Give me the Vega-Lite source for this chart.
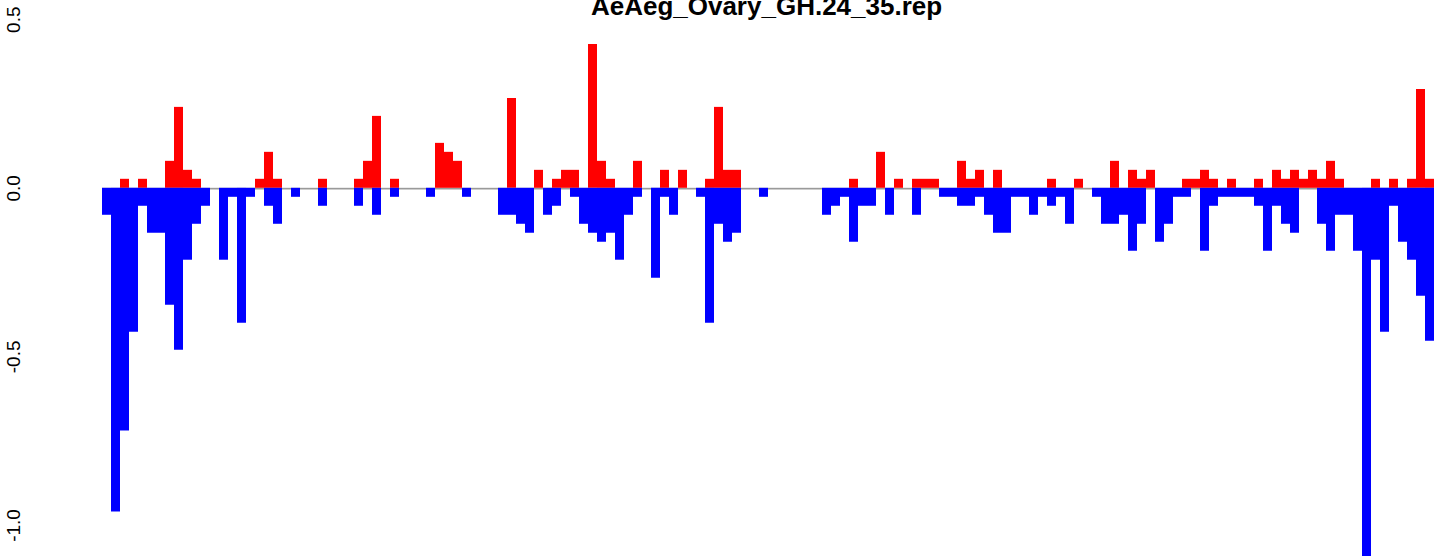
{
  "$schema": "https://vega.github.io/schema/vega-lite/v6.json",
  "width": 1441,
  "height": 556,
  "autosize": {"type": "none"},
  "padding": 0,
  "background": "white",
  "config": {"view": {"stroke": null}, "font": "Liberation Sans"},
  "data": {"values": [
    {"i": 0, "up": 0, "down": -0.08},
    {"i": 1, "up": 0, "down": -0.96},
    {"i": 2, "up": 0.0267, "down": -0.72},
    {"i": 3, "up": 0, "down": -0.4267},
    {"i": 4, "up": 0.0267, "down": -0.0533},
    {"i": 5, "up": 0, "down": -0.1333},
    {"i": 6, "up": 0, "down": -0.1333},
    {"i": 7, "up": 0.08, "down": -0.3467},
    {"i": 8, "up": 0.24, "down": -0.48},
    {"i": 9, "up": 0.0533, "down": -0.2133},
    {"i": 10, "up": 0.0267, "down": -0.1067},
    {"i": 11, "up": 0, "down": -0.0533},
    {"i": 12, "up": 0, "down": 0},
    {"i": 13, "up": 0, "down": -0.2133},
    {"i": 14, "up": 0, "down": -0.0267},
    {"i": 15, "up": 0, "down": -0.4},
    {"i": 16, "up": 0, "down": -0.0267},
    {"i": 17, "up": 0.0267, "down": 0},
    {"i": 18, "up": 0.1067, "down": -0.0533},
    {"i": 19, "up": 0.0267, "down": -0.1067},
    {"i": 20, "up": 0, "down": 0},
    {"i": 21, "up": 0, "down": -0.0267},
    {"i": 22, "up": 0, "down": 0},
    {"i": 23, "up": 0, "down": 0},
    {"i": 24, "up": 0.0267, "down": -0.0533},
    {"i": 25, "up": 0, "down": 0},
    {"i": 26, "up": 0, "down": 0},
    {"i": 27, "up": 0, "down": 0},
    {"i": 28, "up": 0.0267, "down": -0.0533},
    {"i": 29, "up": 0.08, "down": 0},
    {"i": 30, "up": 0.2133, "down": -0.08},
    {"i": 31, "up": 0, "down": 0},
    {"i": 32, "up": 0.0267, "down": -0.0267},
    {"i": 33, "up": 0, "down": 0},
    {"i": 34, "up": 0, "down": 0},
    {"i": 35, "up": 0, "down": 0},
    {"i": 36, "up": 0, "down": -0.0267},
    {"i": 37, "up": 0.1333, "down": 0},
    {"i": 38, "up": 0.1067, "down": 0},
    {"i": 39, "up": 0.08, "down": 0},
    {"i": 40, "up": 0, "down": -0.0267},
    {"i": 41, "up": 0, "down": 0},
    {"i": 42, "up": 0, "down": 0},
    {"i": 43, "up": 0, "down": 0},
    {"i": 44, "up": 0, "down": -0.08},
    {"i": 45, "up": 0.2667, "down": -0.08},
    {"i": 46, "up": 0, "down": -0.1067},
    {"i": 47, "up": 0, "down": -0.1333},
    {"i": 48, "up": 0.0533, "down": 0},
    {"i": 49, "up": 0, "down": -0.08},
    {"i": 50, "up": 0.0267, "down": -0.0533},
    {"i": 51, "up": 0.0533, "down": 0},
    {"i": 52, "up": 0.0533, "down": -0.0267},
    {"i": 53, "up": 0, "down": -0.1067},
    {"i": 54, "up": 0.4267, "down": -0.1333},
    {"i": 55, "up": 0.08, "down": -0.16},
    {"i": 56, "up": 0.0267, "down": -0.1333},
    {"i": 57, "up": 0, "down": -0.2133},
    {"i": 58, "up": 0, "down": -0.08},
    {"i": 59, "up": 0.08, "down": -0.0267},
    {"i": 60, "up": 0, "down": 0},
    {"i": 61, "up": 0, "down": -0.2667},
    {"i": 62, "up": 0.0533, "down": -0.0267},
    {"i": 63, "up": 0, "down": -0.08},
    {"i": 64, "up": 0.0533, "down": 0},
    {"i": 65, "up": 0, "down": 0},
    {"i": 66, "up": 0, "down": -0.0267},
    {"i": 67, "up": 0.0267, "down": -0.4},
    {"i": 68, "up": 0.24, "down": -0.1067},
    {"i": 69, "up": 0.0533, "down": -0.16},
    {"i": 70, "up": 0.0533, "down": -0.1333},
    {"i": 71, "up": 0, "down": 0},
    {"i": 72, "up": 0, "down": 0},
    {"i": 73, "up": 0, "down": -0.0267},
    {"i": 74, "up": 0, "down": 0},
    {"i": 75, "up": 0, "down": 0},
    {"i": 76, "up": 0, "down": 0},
    {"i": 77, "up": 0, "down": 0},
    {"i": 78, "up": 0, "down": 0},
    {"i": 79, "up": 0, "down": 0},
    {"i": 80, "up": 0, "down": -0.08},
    {"i": 81, "up": 0, "down": -0.0533},
    {"i": 82, "up": 0, "down": -0.0267},
    {"i": 83, "up": 0.0267, "down": -0.16},
    {"i": 84, "up": 0, "down": -0.0533},
    {"i": 85, "up": 0, "down": -0.0533},
    {"i": 86, "up": 0.1067, "down": 0},
    {"i": 87, "up": 0, "down": -0.08},
    {"i": 88, "up": 0.0267, "down": 0},
    {"i": 89, "up": 0, "down": 0},
    {"i": 90, "up": 0.0267, "down": -0.08},
    {"i": 91, "up": 0.0267, "down": 0},
    {"i": 92, "up": 0.0267, "down": 0},
    {"i": 93, "up": 0, "down": -0.0267},
    {"i": 94, "up": 0, "down": -0.0267},
    {"i": 95, "up": 0.08, "down": -0.0533},
    {"i": 96, "up": 0.0267, "down": -0.0533},
    {"i": 97, "up": 0.0533, "down": -0.0267},
    {"i": 98, "up": 0, "down": -0.08},
    {"i": 99, "up": 0.0533, "down": -0.1333},
    {"i": 100, "up": 0, "down": -0.1333},
    {"i": 101, "up": 0, "down": -0.0267},
    {"i": 102, "up": 0, "down": -0.0267},
    {"i": 103, "up": 0, "down": -0.08},
    {"i": 104, "up": 0, "down": -0.0267},
    {"i": 105, "up": 0.0267, "down": -0.0533},
    {"i": 106, "up": 0, "down": -0.0267},
    {"i": 107, "up": 0, "down": -0.1067},
    {"i": 108, "up": 0.0267, "down": 0},
    {"i": 109, "up": 0, "down": 0},
    {"i": 110, "up": 0, "down": -0.0267},
    {"i": 111, "up": 0, "down": -0.1067},
    {"i": 112, "up": 0.08, "down": -0.1067},
    {"i": 113, "up": 0, "down": -0.08},
    {"i": 114, "up": 0.0533, "down": -0.1867},
    {"i": 115, "up": 0.0267, "down": -0.1067},
    {"i": 116, "up": 0.0533, "down": 0},
    {"i": 117, "up": 0, "down": -0.16},
    {"i": 118, "up": 0, "down": -0.1067},
    {"i": 119, "up": 0, "down": -0.0267},
    {"i": 120, "up": 0.0267, "down": -0.0267},
    {"i": 121, "up": 0.0267, "down": 0},
    {"i": 122, "up": 0.0533, "down": -0.1867},
    {"i": 123, "up": 0.0267, "down": -0.0533},
    {"i": 124, "up": 0, "down": -0.0267},
    {"i": 125, "up": 0.0267, "down": -0.0267},
    {"i": 126, "up": 0, "down": -0.0267},
    {"i": 127, "up": 0, "down": -0.0267},
    {"i": 128, "up": 0.0267, "down": -0.0533},
    {"i": 129, "up": 0, "down": -0.1867},
    {"i": 130, "up": 0.0533, "down": -0.0533},
    {"i": 131, "up": 0.0267, "down": -0.1067},
    {"i": 132, "up": 0.0533, "down": -0.1333},
    {"i": 133, "up": 0.0267, "down": 0},
    {"i": 134, "up": 0.0533, "down": 0},
    {"i": 135, "up": 0.0267, "down": -0.1067},
    {"i": 136, "up": 0.08, "down": -0.1867},
    {"i": 137, "up": 0.0267, "down": -0.08},
    {"i": 138, "up": 0, "down": -0.08},
    {"i": 139, "up": 0, "down": -0.1867},
    {"i": 140, "up": 0, "down": -1.12},
    {"i": 141, "up": 0.0267, "down": -0.2133},
    {"i": 142, "up": 0, "down": -0.4267},
    {"i": 143, "up": 0.0267, "down": -0.0533},
    {"i": 144, "up": 0, "down": -0.16},
    {"i": 145, "up": 0.0267, "down": -0.2133},
    {"i": 146, "up": 0.2933, "down": -0.32},
    {"i": 147, "up": 0.0267, "down": -0.4533}
  ]},
  "encoding": {
    "x": {"field": "i", "type": "ordinal", "axis": null,
          "scale": {"type": "band", "paddingInner": 0, "paddingOuter": 0, "range": [102, 1434]}}
  },
  "layer": [
    {
      "mark": {"type": "bar", "color": "#9a9a9a", "clip": true},
      "encoding": {
        "y": {"datum": 0, "type": "quantitative",
              "scale": {"domain": [-1.092, 0.557], "nice": false, "zero": false},
              "axis": {"values": [-1, -0.5, 0, 0.5], "labelExpr": "datum.value == 0.5 ? '0.5' : datum.value == 0 ? '0.0' : datum.value == -0.5 ? '-0.5' : '-1.0'",
                       "domain": false, "ticks": false, "grid": false, "title": null,
                       "labelAngle": -90, "labelAlign": "center", "labelBaseline": "middle",
                       "labelPadding": 0, "offset": -13, "labelFontSize": 19, "labelColor": "black",
                       "labelFont": "Liberation Sans", "labelOverlap": false, "labelFlush": false}},
        "y2": {"datum": -0.005}
      }
    },
    {
      "mark": {"type": "bar", "color": "#FF0000", "clip": true},
      "encoding": {"y": {"field": "up", "type": "quantitative"}, "y2": {"datum": 0}}
    },
    {
      "mark": {"type": "bar", "color": "#0000FF", "clip": true},
      "encoding": {"y": {"field": "down", "type": "quantitative"}, "y2": {"datum": 0}}
    },
    {
      "data": {"values": [{"label": "AeAeg_Ovary_GH.24_35.rep"}]},
      "mark": {"type": "text", "font": "Liberation Sans", "fontWeight": "bold", "fontSize": 26, "color": "black", "align": "center", "baseline": "alphabetic", "dx": 3},
      "encoding": {
        "x": {"datum": 73},
        "y": {"datum": 0.5125, "type": "quantitative"},
        "text": {"field": "label", "type": "nominal"}
      }
    }
  ]
}
